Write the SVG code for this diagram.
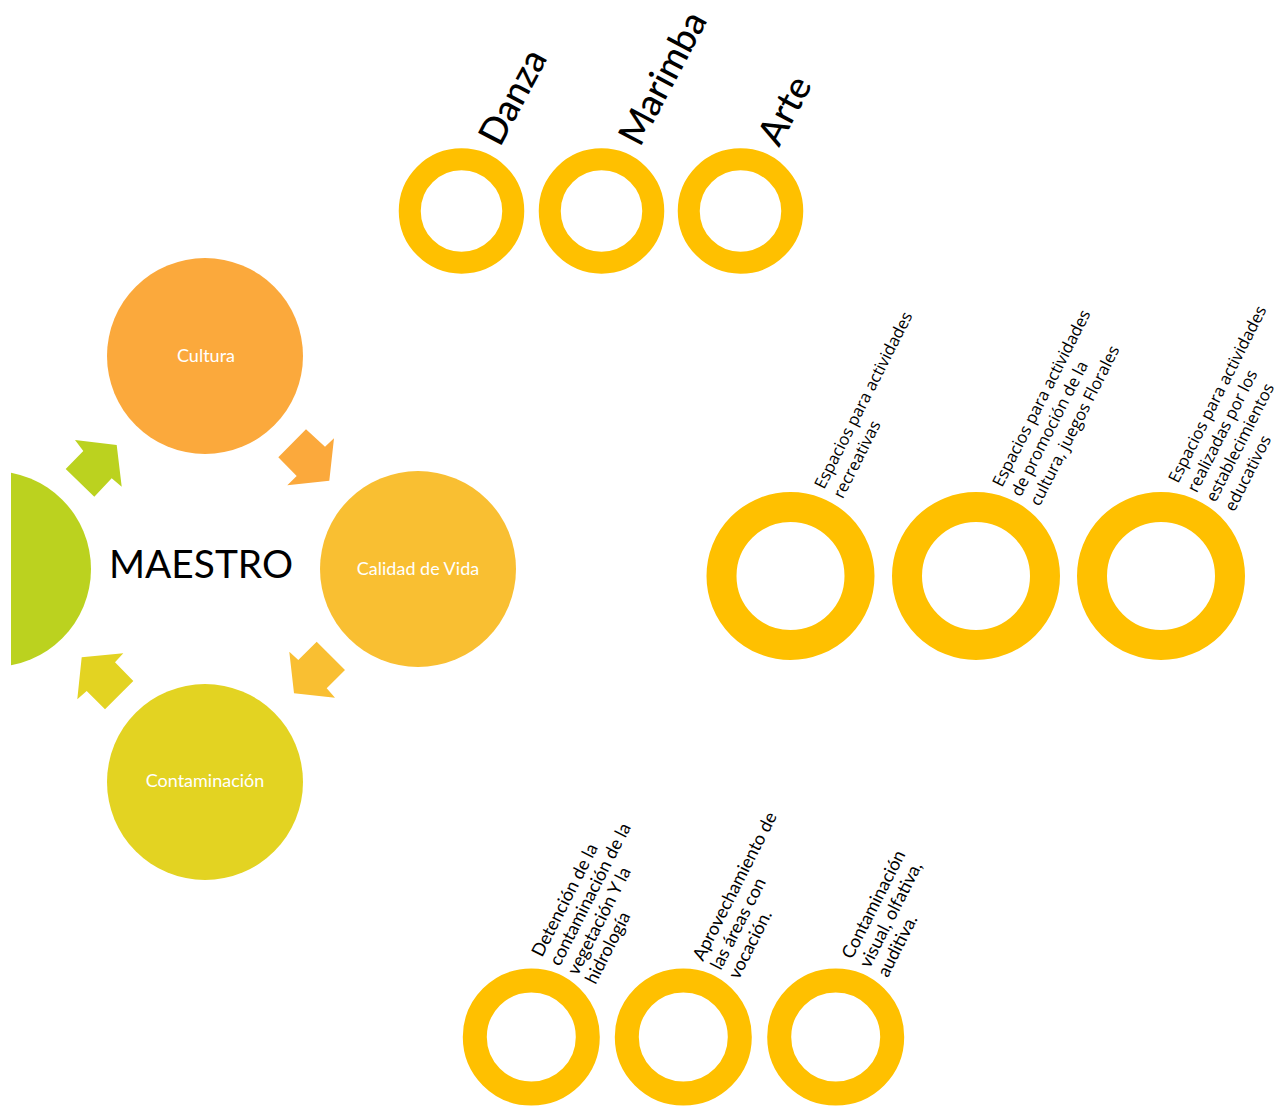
<svg xmlns="http://www.w3.org/2000/svg" width="1278" height="1109" viewBox="0 0 1278 1109">
<defs>
<style>
.ring-s{fill:none;stroke:#FFC000;stroke-width:22}
.ring-m{fill:none;stroke:#FFC000;stroke-width:30}
.ring-b{fill:none;stroke:#FFC000;stroke-width:24}
.lbl{font-family:Lato,"Liberation Sans",sans-serif;fill:#ffffff;font-size:18px;text-anchor:middle}
.big{font-family:Lato,"Liberation Sans",sans-serif;fill:#000;font-size:37px;font-weight:500}
.mid{font-family:"Open Sans","Liberation Sans",sans-serif;fill:#000;font-size:16.5px}
.bot{font-family:Lato,"Liberation Sans",sans-serif;fill:#000;font-size:18px}
</style>
<clipPath id="clipL"><rect x="11" y="0" width="200" height="1109"/></clipPath>
</defs>
<rect width="1278" height="1109" fill="#ffffff"/>

<g id="maestro">
<circle cx="-7" cy="569" r="98" fill="#BBD21F" clip-path="url(#clipL)"/>
<text x="109" y="578" font-family="Lato,'Liberation Sans',sans-serif" font-size="39" textLength="184" lengthAdjust="spacingAndGlyphs" fill="#000">MAESTRO</text>
</g>

<g id="cultura">
<circle cx="205" cy="356" r="98" fill="#FBA93C"/>
<text class="lbl" x="206" y="362">Cultura</text>
</g>
<g id="calidad">
<circle cx="418" cy="569" r="98" fill="#F9BF32"/>
<text class="lbl" x="418" y="575">Calidad de Vida</text>
</g>
<g id="contaminacion">
<circle cx="205" cy="782" r="98" fill="#E3D322"/>
<text class="lbl" x="205" y="787">Contaminación</text>
</g>

<g id="connectors">
<polygon fill="#BBD21F" points="75,440 116.7,445 121.7,486.7 111.7,478.3 94.3,496.7 65.7,469 83.3,451"/>
<polygon fill="#FBA93C" points="306,429.3 325,446.7 334,438.3 329.3,480.7 287.3,485.3 296.7,476 278.3,457.3"/>
<polygon fill="#F9BF32" points="316.7,641.7 345,670 326.7,688.3 335,697.7 294,693.3 289.3,651.7 298.3,660"/>
<polygon fill="#E3D322" points="81.7,657.3 123.3,653.3 115,662.3 133.3,681 105,709.3 86.7,691 77.3,699.3"/>
</g>

<g id="danza">
<circle class="ring-s" cx="461.5" cy="211" r="51.75"/>
<text class="big" transform="translate(500,148) rotate(-62)">Danza</text>
</g>
<g id="marimba">
<circle class="ring-s" cx="601.5" cy="211" r="51.75"/>
<text class="big" transform="translate(640,148) rotate(-62)">Marimba</text>
</g>
<g id="arte">
<circle class="ring-s" cx="740.5" cy="211" r="51.75"/>
<text class="big" transform="translate(779,148) rotate(-62)">Arte</text>
</g>

<g id="espacios-recreativas">
<circle class="ring-m" cx="790.5" cy="576" r="69"/>
<text class="mid" transform="translate(824,490) rotate(-63)"><tspan x="0" y="0">Espacios para actividades</tspan><tspan x="0" y="21">recreativas</tspan></text>
</g>
<g id="espacios-cultura">
<circle class="ring-m" cx="976" cy="576" r="69"/>
<text class="mid" transform="translate(1002,488) rotate(-63)"><tspan x="0" y="0">Espacios para actividades</tspan><tspan x="0" y="21">de promoción de la</tspan><tspan x="0" y="42">cultura, juegos Florales</tspan></text>
</g>
<g id="espacios-educativos">
<circle class="ring-m" cx="1161" cy="576" r="69"/>
<text class="mid" transform="translate(1178,484) rotate(-63)"><tspan x="0" y="0">Espacios para actividades</tspan><tspan x="0" y="21">realizadas por los</tspan><tspan x="0" y="42">establecimientos</tspan><tspan x="0" y="63">educativos</tspan></text>
</g>

<g id="deteccion">
<circle class="ring-b" cx="531.3" cy="1037" r="56.5"/>
<text class="bot" transform="translate(542,958) rotate(-63)"><tspan x="0" y="0">Detención de la</tspan><tspan x="0" y="20">contaminación de la</tspan><tspan x="0" y="40">vegetación Y la</tspan><tspan x="0" y="60">hidrología</tspan></text>
</g>
<g id="aprovechamiento">
<circle class="ring-b" cx="683.3" cy="1037" r="56.5"/>
<text class="bot" transform="translate(703,962) rotate(-63)"><tspan x="0" y="0">Aprovechamiento de</tspan><tspan x="0" y="20">las áreas con</tspan><tspan x="0" y="40">vocación.</tspan></text>
</g>
<g id="contaminacion-visual">
<circle class="ring-b" cx="835.7" cy="1037" r="56.5"/>
<text class="bot" transform="translate(852,960) rotate(-63)"><tspan x="0" y="0">Contaminación</tspan><tspan x="0" y="20">visual, olfativa,</tspan><tspan x="0" y="40">auditiva.</tspan></text>
</g>
</svg>
